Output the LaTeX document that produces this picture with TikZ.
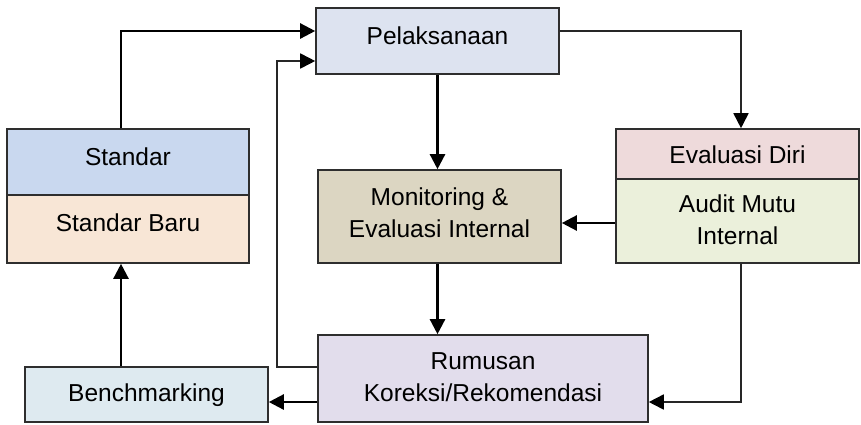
\documentclass[tikz,border=0pt]{standalone}
\usepackage{fontspec}
\setmainfont{Liberation Sans}
\usetikzlibrary{arrows.meta}
\definecolor{cpel}{HTML}{DDE3F0}
\definecolor{cstd}{HTML}{C9D8EF}
\definecolor{cstdb}{HTML}{F8E6D6}
\definecolor{cmon}{HTML}{DCD6C2}
\definecolor{cevd}{HTML}{EEDADB}
\definecolor{caud}{HTML}{EBF0DB}
\definecolor{crum}{HTML}{E2DDEC}
\definecolor{cben}{HTML}{DEEAF0}
\definecolor{cedge}{HTML}{2E2E2E}
\definecolor{cthin}{HTML}{262626}
\tikzset{
  box/.style={draw=cedge, line width=1.6pt, rectangle, inner sep=0pt},
  txt/.style={inner sep=0pt, align=center, font=\fontsize{24.5}{32}\selectfont, text=black},
  arr/.style={line width=2.4pt, black, -{Triangle[length=15pt,width=15pt]}},
  arrthin/.style={line width=1.7pt, cthin, -{Triangle[length=15pt,width=15pt,color=black]}},
}
\begin{document}
\begin{tikzpicture}[x=1pt,y=-1pt]
\useasboundingbox (0,0) rectangle (861,424);
\node[box, fill=cpel, minimum width=243pt, minimum height=66pt] (pel) at (437.5,41) {};
\node[box, fill=cstd, minimum width=242pt, minimum height=66pt] (std) at (128,162) {};
\node[box, fill=cstdb, minimum width=242pt, minimum height=68pt] (stdb) at (128,229) {};
\node[box, fill=cmon, minimum width=243pt, minimum height=93pt] (mon) at (439.5,216.5) {};
\node[box, fill=cevd, minimum width=243pt, minimum height=50pt] (evd) at (737.5,154) {};
\node[box, fill=caud, minimum width=243pt, minimum height=84pt] (aud) at (737.5,221) {};
\node[box, fill=crum, minimum width=330pt, minimum height=87pt] (rum) at (483,378.5) {};
\node[box, fill=cben, minimum width=243pt, minimum height=55pt] (ben) at (146.5,394.5) {};
% texts
\node[txt] (pelt) at ([yshift=5pt]pel.center) {Pelaksanaan};
\node[txt] (stdt) at ([yshift=5pt]std.center) {Standar};
\node[txt] (stdbt) at ([yshift=6pt]stdb.center) {Standar Baru};
\node[txt] (mont) at ([yshift=4pt]mon.center) {Monitoring \&\\Evaluasi Internal};
\node[txt] (evdt) at ([yshift=-1pt]evd.center) {Evaluasi Diri};
\node[txt] (audt) at ([yshift=1pt]aud.center) {Audit Mutu\\Internal};
\node[txt] (rumt) at ([yshift=1pt]rum.center) {Rumusan\\Koreksi/Rekomendasi};
\node[txt] (bent) at ([yshift=-1pt]ben.center) {Benchmarking};
% connectors
\draw[arr] ([xshift=-7pt]std.north) |- ([yshift=10pt]pel.west);
\draw[arrthin] ([yshift=11.5pt]rum.west) -| ([xshift=-38pt,yshift=-20pt]pel.west) -- ([yshift=-20pt]pel.west);
\draw[arrthin] ([yshift=10pt]pel.east) -| ([xshift=3.5pt]evd.north);
\draw[arr] (pel.south) -- (pel.south |- mon.north);
\draw[arr] ([yshift=-2pt]aud.west) -- ([yshift=-2pt]aud.west -| mon.east);
\draw[arr] (mon.south -| pel.south) -- (pel.south |- rum.north);
\draw[arrthin] ([xshift=3.5pt]aud.south) |- ([yshift=-23.5pt]rum.east);
\draw[arr] ([yshift=-23.5pt]rum.west) -- ([yshift=-23.5pt]rum.west -| ben.east);
\draw[arr] ([xshift=-25.5pt]ben.north) -- ([xshift=-25.5pt]ben.north |- stdb.south);
\end{tikzpicture}
\end{document}
